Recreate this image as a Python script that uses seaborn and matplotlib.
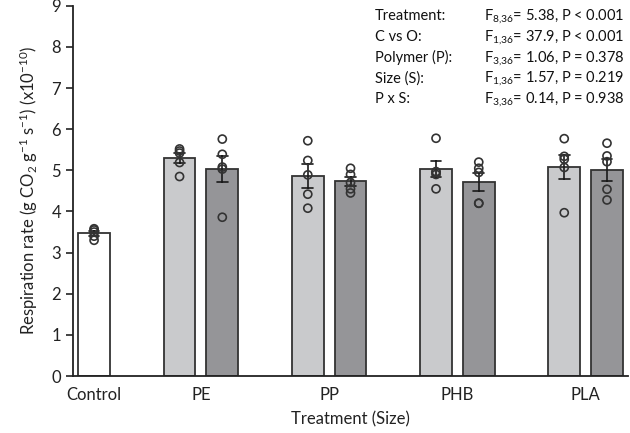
import matplotlib
matplotlib.use("Agg")
import matplotlib.pyplot as plt
import seaborn as sns
import numpy as np
import pandas as pd

# replicate respiration rates (x10^-10 g CO2 g-1 s-1)
control = [3.58, 3.55, 3.50, 3.40, 3.30]
pe_small = [5.52, 5.47, 5.42, 5.19, 4.85]
pe_large = [5.76, 5.39, 5.08, 5.03, 3.86]
pp_small = [5.72, 5.24, 4.89, 4.42, 4.08]
pp_large = [5.05, 4.90, 4.70, 4.55, 4.45]
phb_small = [5.78, 4.97, 4.95, 4.90, 4.55]
phb_large = [5.20, 5.05, 4.95, 4.20, 4.20]
pla_small = [5.77, 5.34, 5.27, 5.07, 3.97]
pla_large = [5.66, 5.35, 5.21, 4.54, 4.28]

polymers = ["PE", "PP", "PHB", "PLA"]
size_names = ["Small", "Large"]
series = {
    ("PE", "Small"): pe_small, ("PE", "Large"): pe_large,
    ("PP", "Small"): pp_small, ("PP", "Large"): pp_large,
    ("PHB", "Small"): phb_small, ("PHB", "Large"): phb_large,
    ("PLA", "Small"): pla_small, ("PLA", "Large"): pla_large,
}

stats_labels = ["Treatment:", "C vs O:", "Polymer (P):", "Size (S):", "P x S:"]
stats_values = [
    r"F$_{8{,}36}$= 5.38, P < 0.001",
    r"F$_{1{,}36}$= 37.9, P < 0.001",
    r"F$_{3{,}36}$= 1.06, P = 0.378",
    r"F$_{1{,}36}$= 1.57, P = 0.219",
    r"F$_{3{,}36}$= 0.14, P = 0.938",
]

# long table, one row per replicate
rows = [("Control", "Control", "Control", v) for v in control]
for (poly, size), vals in series.items():
    rows += [(f"{poly} {size}", poly, size, v) for v in vals]
df = pd.DataFrame(rows, columns=["bar", "polymer", "size", "rate"])

# bar order with empty slots between the polymer groups
order = ["Control"]
for i, poly in enumerate(polymers):
    order.append(" " * (i + 1))
    order += [f"{poly} {s}" for s in size_names]

palette = {"Control": "white", "Small": "#c9cacc", "Large": "#949599"}

sns.set_style("ticks")
plt.rcParams["font.family"] = ["Lato", "DejaVu Sans"]
plt.rcParams["mathtext.fontset"] = "custom"
plt.rcParams["mathtext.rm"] = "Lato"
plt.rcParams["mathtext.it"] = "Lato:italic"

fig = plt.figure(figsize=(6.3, 4.33), dpi=100)
ax = fig.add_axes([0.1154, 0.1316, 0.882, 0.855])

sns.barplot(data=df, x="bar", y="rate", hue="size", order=order,
            palette=palette, dodge=False, width=0.74, errorbar="se",
            capsize=0.25, err_kws={"color": "#1a1a1a", "linewidth": 1.2},
            edgecolor="#333333", linewidth=1.3, legend=False, ax=ax)
sns.stripplot(data=df, x="bar", y="rate", order=order, jitter=False,
              color="#333333", facecolors="none", edgecolor="#333333",
              linewidth=1.2, size=5.8, zorder=4, ax=ax)

# group tick positions: centre of each group's bars
tick_pos = [order.index("Control")]
for poly in polymers:
    tick_pos.append(np.mean([order.index(f"{poly} {s}") for s in size_names]))
ax.set_xticks(tick_pos)
ax.set_xticklabels(["Control"] + polymers, fontsize=12, color="#222222")
ax.tick_params(axis="x", length=0, pad=8)

ax.set_ylim(0, 9)
ax.set_yticks(range(0, 10))
ax.tick_params(axis="y", labelsize=12, length=5, width=1.2, colors="#222222")
ax.set_xlim(-0.5, len(order) - 0.5)
ax.set_xlabel("Treatment (Size)", fontsize=12, color="#222222", labelpad=6)
ax.set_ylabel(r"Respiration rate (g CO$_2$ g$^{-1}$ s$^{-1}$) (x10$^{-10}$)",
              fontsize=12, color="#222222", labelpad=8)
sns.despine(ax=ax)
for sp in ["left", "bottom"]:
    ax.spines[sp].set_linewidth(1.3)
    ax.spines[sp].set_color("#222222")

# ANOVA summary, top right
for i, (lab, val) in enumerate(zip(stats_labels, stats_values)):
    y = 0.963 - i * 0.048
    fig.text(0.595, y, lab, fontsize=10.5, va="center", color="#111111")
    fig.text(0.768, y, val, fontsize=10.5, va="center", color="#111111")

fig.savefig("out.png", dpi=100)
